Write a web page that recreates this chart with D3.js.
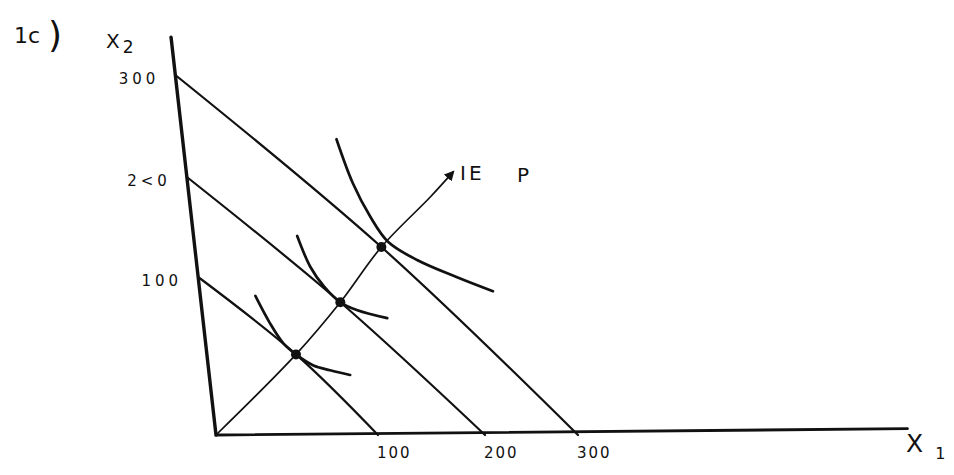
<!DOCTYPE html>
<html>
<head>
<meta charset="utf-8">
<script src="https://cdn.jsdelivr.net/npm/d3@7"></script>
<style>
  body { margin: 0; background: #fff; }
  text { font-family: "DejaVu Sans", sans-serif; fill: #111; }
</style>
</head>
<body>
<svg width="954" height="475"></svg>
<script>
// income levels, each budget line runs from (0, I) to (I, 0)
const incomes = [100, 200, 300];
// tangency points (one per income level)
const equilibria = [[55, 51], [86, 84], [123, 130]];
// indifference curves
const indiffLow = [[34, 88], [41, 71], [48, 58], [55, 51], [65, 44], [75, 41], [87, 38]];
const indiffMid = [[64, 141], [70, 110], [77, 94], [86, 84], [96, 79], [121, 74]];
const indiffHigh = [[95, 237], [103, 194], [116, 160], [130, 135], [155, 117], [190, 100], [226, 91]];
// income expansion path
const iepPath = [[0, 0], [55, 51], [86, 84], [123, 130], [174, 180], [198, 205]];
const xTicks = [100, 200, 300];
const xTickLabels = ["100", "200", "300"];
const yTicks = [100, 200, 300];
const yTickLabels = ["100", "2<0", "300"];
const xMax = 655, yMax = 337;

var svg = d3.select('svg');

// hand drawn axes: uneven spacing, so piecewise scales
var x = d3.scaleLinear().domain([0, 100, 200, 300]).range([216, 378, 485, 578]);
var y = d3.scaleLinear().domain([0, 100, 200, 300]).range([435, 277, 177, 75]);
var skew = 0.113; // the x2 axis leans to the left

const pt = d => [x(d[0]) - skew * (y(0) - y(d[1])), y(d[1])];

var straight = d3.line().x(d => pt(d)[0]).y(d => pt(d)[1]);
var smooth = d3.line().x(d => pt(d)[0]).y(d => pt(d)[1]).curve(d3.curveCatmullRom.alpha(0.5));

svg.append('defs').append('marker')
    .attr('id', 'arrow')
    .attr('viewBox', '0 0 10 10')
    .attr('refX', 8).attr('refY', 5)
    .attr('markerWidth', 6).attr('markerHeight', 6)
    .attr('markerUnits', 'strokeWidth')
    .attr('orient', 'auto')
  .append('path')
    .attr('d', 'M0,0 L10,5 L0,10 z')
    .attr('fill', '#111');

var g = svg.append('g').attr('fill', 'none').attr('stroke', '#111').attr('stroke-linecap', 'round');

// axes
g.append('path').attr('d', straight([[0, 0], [0, yMax]])).attr('stroke-width', 3.4);
g.append('path').attr('d', straight([[0, 0], [xMax, 4]])).attr('stroke-width', 2.8);

// budget lines
g.selectAll('path.budget').data(incomes).enter().append('path')
    .attr('class', 'budget')
    .attr('stroke-width', 2.2)
    .attr('d', (I, i) => smooth([[0, I], equilibria[i], [I, 0]]));

// indifference curves
g.selectAll('path.ic').data([indiffLow, indiffMid, indiffHigh]).enter().append('path')
    .attr('class', 'ic')
    .attr('stroke-width', 2.7)
    .attr('d', smooth);

// income expansion path
g.append('path')
    .attr('d', smooth(iepPath))
    .attr('stroke-width', 1.7)
    .attr('marker-end', 'url(#arrow)');

// tangency dots
svg.selectAll('circle').data(equilibria).enter().append('circle')
    .attr('cx', d => pt(d)[0])
    .attr('cy', d => pt(d)[1])
    .attr('r', 5)
    .attr('fill', '#111');

// tick labels
svg.selectAll('text.xt').data(xTicks).enter().append('text')
    .attr('class', 'xt')
    .attr('x', d => pt([d, 0])[0] - 1)
    .attr('y', 458)
    .attr('font-size', 15)
    .attr('letter-spacing', 2)
    .text((d, i) => xTickLabels[i]);

svg.selectAll('text.yt').data(yTicks).enter().append('text')
    .attr('class', 'yt')
    .attr('x', d => pt([0, d])[0] - 16)
    .attr('y', d => pt([0, d])[1] + 9)
    .attr('text-anchor', 'end')
    .attr('font-size', 15)
    .attr('letter-spacing', 4)
    .text((d, i) => yTickLabels[i]);

// axis names and titles
svg.append('text').attr('x', 14).attr('y', 43).attr('font-size', 22)
    .text('1c')
  .append('tspan').attr('dx', 8).attr('font-size', 36).attr('dy', 4).text(')');

var x2 = svg.append('text').attr('x', 106).attr('y', 48).attr('font-size', 20).text('X');
x2.append('tspan').attr('dx', 3).attr('dy', 5).attr('font-size', 17).text('2');

var x1 = svg.append('text').attr('x', 906).attr('y', 452).attr('font-size', 25).text('X');
x1.append('tspan').attr('dx', 12).attr('dy', 7).attr('font-size', 16).text('1');

svg.append('text').attr('x', 460).attr('y', 180).attr('font-size', 20).attr('letter-spacing', 3)
    .text('IE')
  .append('tspan').attr('x', 517).attr('y', 182).text('P');
</script>
</body>
</html>
